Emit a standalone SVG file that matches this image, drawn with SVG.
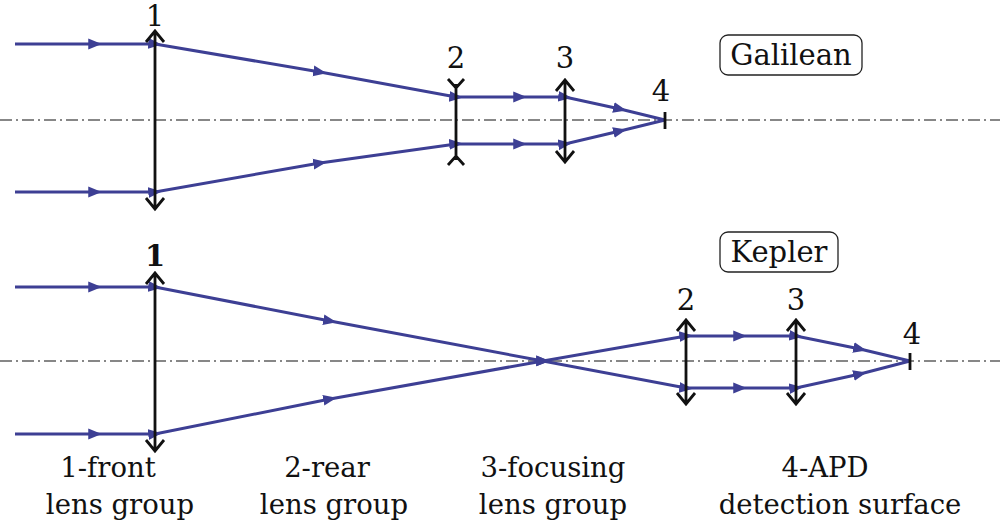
<svg xmlns="http://www.w3.org/2000/svg" width="1000" height="524" viewBox="0 0 1000 524">
<style>
.ray{fill:none;stroke:#3d3f94;stroke-width:3;marker-mid:url(#a)}
.axis{stroke:#111;stroke-width:1.2;stroke-dasharray:12 4 2 4}
.lens{stroke:#111;stroke-width:2.8;fill:none}
.t{font-family:"DejaVu Serif","Liberation Serif",serif;font-size:29px;fill:#111;text-anchor:middle}
.b{font-family:"DejaVu Serif","Liberation Serif",serif;font-size:27.5px;fill:#111;text-anchor:middle}
.box{fill:#fff;stroke:#222;stroke-width:1.3}
</style>
<defs>
<marker id="a" viewBox="0 0 10 8" refX="5" refY="4" markerWidth="4.5" markerHeight="4" orient="auto" markerUnits="strokeWidth"><path d="M0,0L10,4L0,8z" fill="#3d3f94"/></marker>
</defs>
<rect width="1000" height="524" fill="#fff"/>
<line class="axis" x1="0" y1="120" x2="1000" y2="120"/>
<line class="axis" x1="0" y1="361" x2="1000" y2="361"/>
<g id="connectors">
<path class="ray" d="M15,44L95,44L155,44L320,72L456,97L520,97L565,97L620,109L665,120"/>
<path class="ray" d="M15,192L95,192L155,192L320,163L456,144L520,144L565,144L620,131L665,120"/>
<path class="ray" d="M15,287L95,287L155,287L330,321L543,361L686,336L740,336L796,336L860,349L910,361"/>
<path class="ray" d="M15,434L95,434L155,434L330,399L543,361L686,388L740,388L796,388L860,374L910,361"/>
</g>
<g id="g-lens1"><path class="lens" d="M155,31V209M146,42L155,31L164,42M146,198L155,209L164,198"/><text class="t" x="155" y="26">1</text></g>
<g id="g-lens2"><path class="lens" d="M456,84V160M448,79L456,88L464,79M448,165L456,156L464,165"/><text class="t" x="456" y="68">2</text></g>
<g id="g-lens3"><path class="lens" d="M565,80V162M556,91L565,80L574,91M556,151L565,162L574,151"/><text class="t" x="565" y="68">3</text></g>
<g id="g-f4"><path class="lens" d="M665,112V129"/><text class="t" x="661" y="101">4</text></g>
<g id="g-label"><rect class="box" x="720" y="35" width="142" height="40" rx="8"/><text class="t" x="791" y="65">Galilean</text></g>
<g id="k-lens1"><path class="lens" d="M155,273V451M146,284L155,273L164,284M146,440L155,451L164,440"/><text class="t" x="155" y="266" font-size="22" font-weight="bold">1</text></g>
<g id="k-lens2"><path class="lens" d="M686,320V404M677,331L686,320L695,331M677,393L686,404L695,393"/><text class="t" x="686" y="310">2</text></g>
<g id="k-lens3"><path class="lens" d="M796,320V404M787,331L796,320L805,331M787,393L796,404L805,393"/><text class="t" x="796" y="310">3</text></g>
<g id="k-f4"><path class="lens" d="M910,353V370"/><text class="t" x="912" y="344">4</text></g>
<g id="k-label"><rect class="box" x="720" y="232" width="118" height="40" rx="8"/><text class="t" x="779" y="262">Kepler</text></g>
<g id="legend">
<text class="b" x="108" y="477">1-front</text><text class="b" x="120" y="514">lens group</text>
<text class="b" x="327" y="477">2-rear</text><text class="b" x="334" y="514">lens group</text>
<text class="b" x="553" y="477">3-focusing</text><text class="b" x="553" y="514">lens group</text>
<text class="b" x="825" y="477">4-APD</text><text class="b" x="840" y="514">detection surface</text>
</g>
</svg>
